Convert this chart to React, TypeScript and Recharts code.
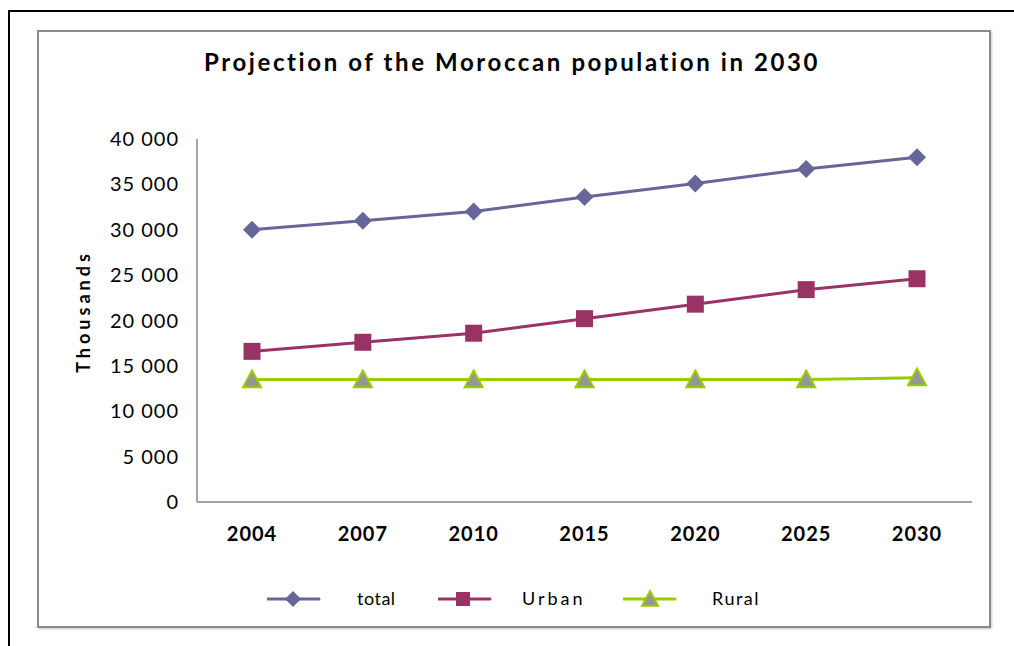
import React from 'react'
import { LineChart, Line, XAxis, YAxis, Legend } from 'recharts'

const years = ['2004', '2007', '2010', '2015', '2020', '2025', '2030']
const total = [30000, 31000, 32000, 33600, 35100, 36700, 38000]
const urban = [16600, 17600, 18600, 20200, 21800, 23400, 24600]
const rural = [13500, 13500, 13500, 13500, 13500, 13500, 13700]
const yTicks = [0, 5000, 10000, 15000, 20000, 25000, 30000, 35000, 40000]

const data = years.map((year, i) => ({ year, total: total[i], urban: urban[i], rural: rural[i] }))

const FONT = 'Lato, "Open Sans", sans-serif'
const TOTAL_COLOR = '#666699'
const URBAN_COLOR = '#993366'
const RURAL_COLOR = '#99CC00'
const TRI_FILL = '#969696'

const fmt = (v: number) => {
  if (v === 0) return '0'
  const th = Math.floor(v / 1000)
  const rest = String(v % 1000).padStart(3, '0')
  return `${th} ${rest}`
}

function Diamond({ cx, cy, r = 9 }: any) {
  if (cx == null || cy == null) return null
  return <path d={`M${cx},${cy - r} L${cx + r},${cy} L${cx},${cy + r} L${cx - r},${cy} Z`} fill={TOTAL_COLOR} />
}

function Square({ cx, cy, s = 8.5 }: any) {
  if (cx == null || cy == null) return null
  return <rect x={cx - s} y={cy - s} width={s * 2} height={s * 2} fill={URBAN_COLOR} />
}

function Triangle({ cx, cy, r = 9 }: any) {
  if (cx == null || cy == null) return null
  return (
    <path
      d={`M${cx},${cy - r} L${cx + r},${cy + r * 0.85} L${cx - r},${cy + r * 0.85} Z`}
      fill={TRI_FILL}
      stroke={RURAL_COLOR}
      strokeWidth={2}
    />
  )
}

const legendItems = [
  { label: 'total', color: TOTAL_COLOR, icon: 'diamond', x: 229, tx: 319, spacing: 0.5 },
  { label: 'Urban', color: URBAN_COLOR, icon: 'square', x: 400, tx: 484, spacing: 3 },
  { label: 'Rural', color: RURAL_COLOR, icon: 'triangle', x: 585, tx: 674, spacing: 1.5 },
]

function LegendContent() {
  return (
    <div style={{ position: 'relative', width: 952, height: 30 }}>
      {legendItems.map((it) => (
        <React.Fragment key={it.label}>
          <svg style={{ position: 'absolute', left: it.x, top: 0 }} width={54} height={30}>
            <line x1={1} y1={14} x2={52} y2={14} stroke={it.color} strokeWidth={3} strokeLinecap="round" />
            {it.icon === 'diamond' && <Diamond cx={26} cy={14} r={8} />}
            {it.icon === 'square' && <Square cx={25} cy={14} s={7} />}
            {it.icon === 'triangle' && <Triangle cx={27} cy={14} r={8} />}
          </svg>
          <span
            style={{
              position: 'absolute',
              left: it.tx,
              top: 1,
              fontFamily: FONT,
              fontSize: 18,
              letterSpacing: it.spacing,
              color: '#000',
              lineHeight: '24px',
            }}
          >
            {it.label}
          </span>
        </React.Fragment>
      ))}
    </div>
  )
}

function YLabel({ viewBox }: any) {
  const cx = viewBox.x - 54
  const cy = viewBox.y + viewBox.height / 2 - 9
  return (
    <text
      x={cx}
      y={cy}
      transform={`rotate(-90, ${cx}, ${cy})`}
      textAnchor="middle"
      dominantBaseline="central"
      style={{ fontFamily: FONT, fontSize: 18, fontWeight: 700, fill: '#000', letterSpacing: 4 }}
    >
      Thousands
    </text>
  )
}

export default function App() {
  return (
    <div style={{ position: 'fixed', left: 0, top: 0, width: 1014, height: 646, overflow: 'hidden', background: '#fff' }}>
      <div style={{ position: 'absolute', left: 8, top: 10, width: 1100, height: 700, border: '2px solid #000' }} />
      <div
        style={{
          position: 'absolute',
          left: 37,
          top: 30,
          width: 950,
          height: 594,
          border: '2px solid #8a8a8a',
          boxShadow: '1px 1px 2px #c8c8c8',
          background: '#fff',
        }}
      />
      <div
        style={{
          position: 'absolute',
          left: 0,
          top: 47,
          width: 1024,
          textAlign: 'center',
          fontFamily: FONT,
          fontWeight: 700,
          fontSize: 24,
          letterSpacing: 2.6,
          color: '#000',
        }}
      >
        Projection of the Moroccan population in 2030
      </div>
      <div style={{ position: 'absolute', left: 38, top: 31 }}>
        <LineChart width={952} height={596} data={data} margin={{ top: 108, right: 18, left: 99, bottom: 12 }}>
          <XAxis
            dataKey="year"
            padding={{ left: 55, right: 55 }}
            axisLine={{ stroke: '#868686', strokeWidth: 1.5 }}
            tickLine={false}
            height={83}
            tickMargin={19}
            tick={{ fontFamily: FONT, fontSize: 20, fontWeight: 700, fill: '#000', letterSpacing: 1 }}
          />
          <YAxis
            domain={[0, 40000]}
            ticks={yTicks}
            interval={0}
            width={60}
            axisLine={{ stroke: '#868686', strokeWidth: 1.5 }}
            tickLine={false}
            tickMargin={12}
            tickFormatter={fmt}
            tick={{ fontFamily: FONT, fontSize: 20, fill: '#000', letterSpacing: 1 }}
            label={{ content: (p: any) => <YLabel {...p} /> }}
          />
          <Line
            dataKey="total"
            stroke={TOTAL_COLOR}
            strokeWidth={3}
            dot={(p: any) => <Diamond key={`t${p.index}`} cx={p.cx} cy={p.cy} />}
            isAnimationActive={false}
          />
          <Line
            dataKey="urban"
            stroke={URBAN_COLOR}
            strokeWidth={3}
            dot={(p: any) => <Square key={`u${p.index}`} cx={p.cx} cy={p.cy} />}
            isAnimationActive={false}
          />
          <Line
            dataKey="rural"
            stroke={RURAL_COLOR}
            strokeWidth={3}
            dot={(p: any) => <Triangle key={`r${p.index}`} cx={p.cx} cy={p.cy} />}
            isAnimationActive={false}
          />
          <Legend
            verticalAlign="bottom"
            height={30}
            content={() => <LegendContent />}
            wrapperStyle={{ left: 0, width: 952 }}
          />
        </LineChart>
      </div>
    </div>
  )
}
